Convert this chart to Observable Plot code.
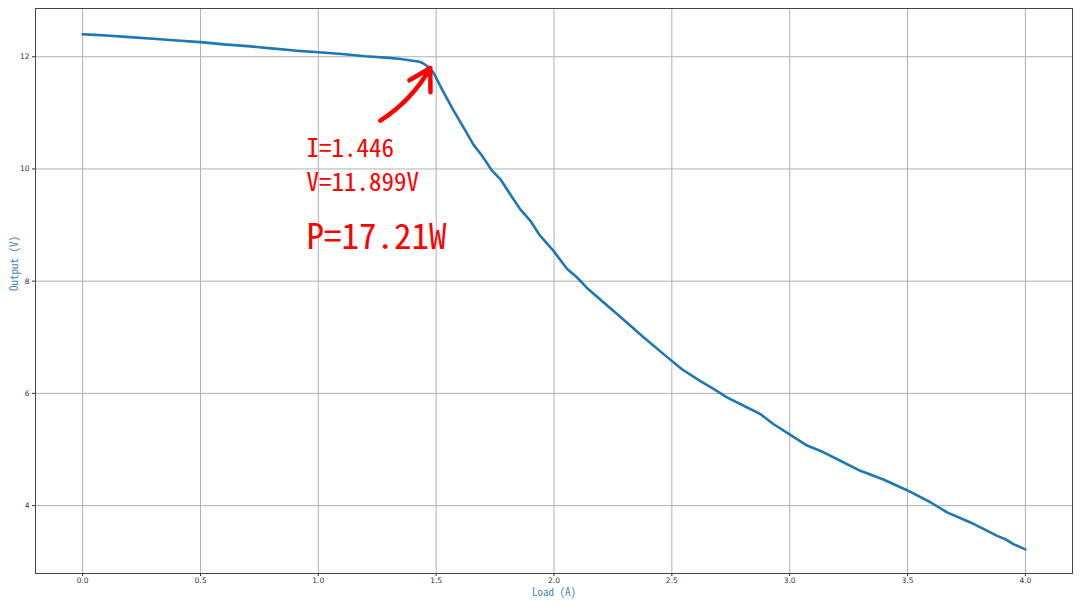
<!DOCTYPE html>
<html>
<head>
<meta charset="utf-8">
<script src="https://cdn.jsdelivr.net/npm/d3@7"></script>
<script src="https://cdn.jsdelivr.net/npm/@observablehq/plot@0.6"></script>
<style>
  html, body { margin: 0; padding: 0; background: #fff; }
  #chart svg { display: block; }
  #chart text.hw { font-feature-settings: "hwid" 1; }
</style>
</head>
<body>
<div id="chart"></div>
<script>
const loadA = [0.00,0.05,0.10,0.20,0.30,0.40,0.50,0.60,0.70,0.80,0.90,1.00,1.10,1.20,1.30,1.35,1.40,1.43,1.446,1.46,1.475,1.488,1.53,1.574,1.616,1.659,1.694,1.737,1.772,1.814,1.857,1.899,1.941,1.998,2.055,2.097,2.14,2.20,2.26,2.31,2.38,2.423,2.465,2.543,2.621,2.677,2.734,2.805,2.876,2.932,3.003,3.074,3.144,3.215,3.30,3.40,3.50,3.597,3.668,3.767,3.824,3.88,3.916,3.951,4.00];
const outputV = [12.40,12.39,12.38,12.35,12.32,12.29,12.26,12.22,12.19,12.15,12.11,12.08,12.05,12.01,11.98,11.96,11.93,11.91,11.88,11.84,11.78,11.72,11.38,11.04,10.74,10.43,10.24,9.97,9.82,9.55,9.28,9.08,8.81,8.54,8.22,8.07,7.88,7.66,7.44,7.26,7.00,6.85,6.70,6.43,6.22,6.08,5.93,5.78,5.63,5.45,5.26,5.07,4.95,4.80,4.62,4.46,4.27,4.06,3.88,3.70,3.58,3.46,3.40,3.31,3.22];
const xTicks = [0.0,0.5,1.0,1.5,2.0,2.5,3.0,3.5,4.0];
const yTicks = [4,6,8,10,12];
const xLabel = "Load (A)";
const yLabel = "Output (V)";
const noteLines = ["I=1.446", "V=11.899V"];
const noteLineV = [10.36, 9.75];
const noteX = 0.95;
const powerText = "P=17.21W";
const powerV = 8.77;
const arrowFrom = {x: 1.263, y: 10.86};
const arrowTo = {x: 1.475, y: 11.80};

const data = loadA.map((x, i) => ({x, y: outputV[i]}));

const chart = Plot.plot({
  width: 1080,
  height: 608,
  marginLeft: 35,
  marginRight: 8,
  marginTop: 8,
  marginBottom: 35,
  style: {fontFamily: "DejaVu Sans, sans-serif", background: "#fff"},
  x: {domain: [-0.2, 4.2]},
  y: {domain: [2.79, 12.86]},
  marks: [
    Plot.gridX(xTicks, {stroke: "#b0b0b0", strokeOpacity: 1, strokeWidth: 1}),
    Plot.gridY(yTicks, {stroke: "#b0b0b0", strokeOpacity: 1, strokeWidth: 1}),
    Plot.axisX(xTicks, {tickFormat: d => d.toFixed(1), tickSize: 3, tickPadding: 1, fontSize: 7.5, label: null, color: "#333"}),
    Plot.axisY(yTicks, {tickFormat: d => String(d), tickSize: 3, tickPadding: 3, fontSize: 7.5, label: null, color: "#333"}),
    Plot.frame({stroke: "#444", strokeWidth: 1}),
    Plot.line(data, {x: "x", y: "y", stroke: "#1f77b4", strokeWidth: 2.6}),
    Plot.arrow([{x1: arrowFrom.x, y1: arrowFrom.y, x2: arrowTo.x, y2: arrowTo.y}], {
      x1: "x1", y1: "y1", x2: "x2", y2: "y2", bend: -14, stroke: "#ff0000", strokeWidth: 4.5, headLength: 13
    }),
    Plot.text(noteLines.map((t, i) => ({t, y: noteLineV[i]})), {
      x: () => noteX, y: "y", text: "t", textAnchor: "start", fill: "#ff0000",
      fontSize: 25, fontFamily: "Noto Sans CJK SC"
    }),
    Plot.text([powerText], {
      x: () => noteX, y: () => powerV, text: d => d, textAnchor: "start", fill: "#ff0000",
      fontSize: 35, fontFamily: "Noto Sans CJK SC"
    }),
    Plot.text([xLabel], {frameAnchor: "bottom", dy: 22.5, text: d => d, fill: "#4a86b8", fontSize: 11, fontFamily: "Noto Sans CJK SC"}),
    Plot.text([yLabel], {frameAnchor: "left", dx: -21, rotate: -90, text: d => d, fill: "#4a86b8", fontSize: 11, fontFamily: "Noto Sans CJK SC"})
  ]
});
d3.select(chart).selectAll("text").filter(function() {
  const g = this.closest("g");
  return g && (g.getAttribute("font-family") || "").includes("Noto Sans CJK");
}).classed("hw", true);
document.getElementById("chart").appendChild(chart);
</script>
</body>
</html>
